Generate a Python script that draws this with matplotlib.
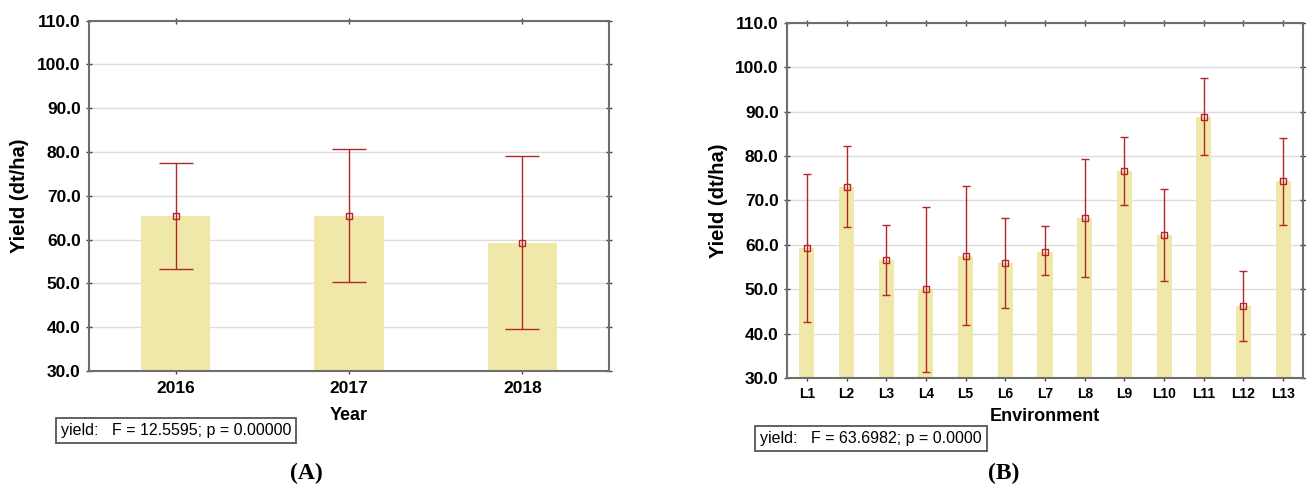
import numpy as np
import matplotlib
matplotlib.use("Agg")
import matplotlib.pyplot as plt

# panel A: yield by year
years = ["2016", "2017", "2018"]
year_mean = [65.4, 65.4, 59.3]
year_upper = [77.5, 80.6, 79.0]
year_lower = [53.2, 50.3, 39.7]

# panel B: yield by environment
envs = ["L1", "L2", "L3", "L4", "L5", "L6", "L7", "L8", "L9", "L10", "L11", "L12", "L13"]
env_mean = [59.3, 73.0, 56.5, 50.1, 57.6, 55.9, 58.5, 66.0, 76.7, 62.2, 88.8, 46.2, 74.3]
env_upper = [76.0, 82.2, 64.4, 68.5, 73.3, 66.0, 64.2, 79.4, 84.3, 72.7, 97.5, 54.2, 84.0]
env_lower = [42.6, 64.0, 48.7, 31.4, 42.0, 45.8, 53.1, 52.7, 69.0, 51.8, 80.3, 38.3, 64.5]

plt.rcParams["font.family"] = ["Liberation Sans", "DejaVu Sans"]

BAR = "#f0e8a8"
ERR = "#b3262a"
SPINE = "#6e6e6e"


def panel(ax, labels, mean, upper, lower, width, capsize, tick_fs, tick_pad):
    x = np.arange(len(labels))
    mean = np.array(mean)
    yerr = [mean - np.array(lower), np.array(upper) - mean]
    ax.bar(x, mean, width=width, color=BAR, zorder=2)
    ax.errorbar(x, mean, yerr=yerr, fmt="s", color=ERR, mfc="none", mec=ERR,
                ms=4.2, mew=1.0, elinewidth=1.0, capsize=capsize, capthick=1.0, zorder=3)
    ax.set_ylim(30, 110)
    ticks = np.arange(30, 111, 10)
    ax.set_yticks(ticks)
    ax.set_yticklabels(["%.1f" % v for v in ticks], fontsize=12.5, fontweight="bold")
    ax.set_xticks(x)
    ax.set_xticklabels(labels, fontsize=tick_fs, fontweight="bold")
    ax.set_xlim(-0.5, len(labels) - 0.5)
    ax.grid(axis="y", color="#dcdcdc", linewidth=1.0, zorder=0)
    ax.set_axisbelow(True)
    for s in ax.spines.values():
        s.set_color(SPINE)
        s.set_linewidth(1.5)
    ax.tick_params(axis="both", direction="inout", length=4, width=1, color="#444444",
                   top=True, right=True)
    ax.tick_params(axis="y", pad=4)
    ax.tick_params(axis="x", pad=tick_pad)


fig = plt.figure(figsize=(13.06, 4.86), dpi=100)

axA = fig.add_axes([0.0682, 0.2366, 0.3981, 0.7208])
panel(axA, years, year_mean, year_upper, year_lower, 0.4, 12, 12.5, 5)
axA.set_ylabel("Yield (dt/ha)", fontsize=14.5, fontweight="bold", labelpad=6)
axA.set_xlabel("Year", fontsize=13, fontweight="bold")
axA.xaxis.set_label_coords(0.5, -0.103)

axB = fig.add_axes([0.6026, 0.2222, 0.3951, 0.7305])
panel(axB, envs, env_mean, env_upper, env_lower, 0.38, 3, 10, 4.5)
axB.set_ylabel("Yield (dt/ha)", fontsize=14.5, fontweight="bold", labelpad=5)
axB.set_xlabel("Environment", fontsize=13, fontweight="bold")
axB.xaxis.set_label_coords(0.5, -0.0845)

box = dict(boxstyle="square,pad=0.3", fc="white", ec="#555555", lw=1.3)
fig.text(0.0467, 0.1142, "yield:   F = 12.5595; p = 0.00000", fontsize=11.5,
         va="center", bbox=box)
fig.text(0.582, 0.0977, "yield:   F = 63.6982; p = 0.0000", fontsize=11.5,
         va="center", bbox=box)

serif = ["Liberation Serif", "DejaVu Serif"]
fig.text(0.2343, 0.025, "(A)", fontsize=17, fontweight="bold", ha="center",
         va="center", family=serif)
fig.text(0.7688, 0.025, "(B)", fontsize=17, fontweight="bold", ha="center",
         va="center", family=serif)

fig.savefig("out.png", dpi=100)
